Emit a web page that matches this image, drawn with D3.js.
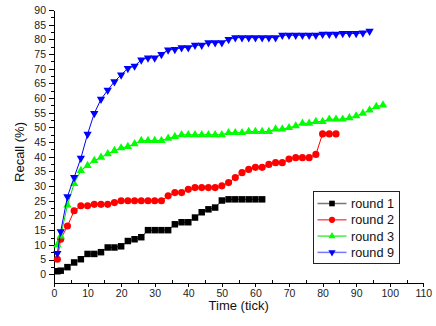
<!DOCTYPE html>
<html>
<head>
<meta charset="utf-8">
<script src="https://cdn.jsdelivr.net/npm/d3@7"></script>
<style>
  body { margin: 0; background: #fff; }
  svg { display: block; font-family: "Liberation Sans", Arial, sans-serif; }
  .axis path, .axis line { stroke: #000; shape-rendering: crispEdges; }
  .axis text { fill: #222; font-size: 10.5px; }
</style>
</head>
<body>
<div id="chart"></div>
<script>
// time (tick) at which each sample was taken
var time = [1, 2, 4, 6, 8, 10, 12, 14, 16, 18, 20, 22, 24, 26, 28, 30, 32, 34, 36, 38, 40,
            42, 44, 46, 48, 50, 52, 54, 56, 58, 60, 62, 64, 66, 68, 70, 72, 74, 76, 78, 80,
            82, 84, 86, 88, 90, 92, 94, 96, 98];

var round1 = [1.0, 1.2, 2.4, 4.0, 5.1, 6.9, 6.9, 7.5, 9.1, 9.1, 9.5, 11.3, 11.9, 12.6, 15.0,
              15.0, 15.0, 15.0, 17.0, 17.7, 17.7, 19.3, 21.1, 22.1, 22.7, 25.1, 25.5, 25.5,
              25.5, 25.5, 25.5, 25.5];

var round2 = [5.1, 11.9, 16.4, 21.6, 23.3, 23.3, 23.8, 23.8, 23.8, 24.4, 25.0, 25.0, 25.0,
              25.0, 25.0, 25.0, 25.0, 26.7, 27.8, 27.8, 28.9, 29.5, 29.5, 29.5, 29.5, 30.1,
              31.2, 32.9, 34.6, 35.7, 36.4, 36.4, 37.4, 38.0, 38.0, 39.2, 39.7, 39.7, 39.7,
              40.8, 47.8, 47.8, 47.8];

var round3 = [10.0, 13.0, 23.5, 30.9, 35.3, 37.0, 38.7, 39.8, 41.0, 42.1, 43.0, 43.5, 44.4,
              45.5, 45.5, 45.5, 45.5, 46.3, 46.9, 47.5, 47.5, 47.5, 47.5, 47.5, 47.5, 47.5,
              48.2, 48.2, 48.2, 48.6, 48.6, 48.6, 48.6, 49.4, 49.4, 49.9, 50.5, 51.4, 51.4,
              52.0, 52.0, 52.8, 52.8, 52.8, 53.3, 53.9, 54.8, 55.9, 57.1, 57.6];

var round9 = [7.1, 14.5, 26.4, 33.0, 39.5, 47.7, 54.8, 59.6, 62.7, 65.6, 67.9, 70.1, 70.9,
              73.0, 73.7, 73.7, 74.9, 76.4, 76.6, 77.2, 77.2, 78.0, 78.0, 78.9, 78.9, 78.9,
              80.0, 80.6, 80.6, 80.6, 80.6, 80.6, 80.6, 80.6, 81.4, 81.4, 81.4, 81.4, 81.4,
              81.4, 81.8, 81.8, 81.8, 82.0, 82.0, 82.0, 82.2, 82.8];

var seriesNames = ["round 1", "round 2", "round 3", "round 9"];
var xTicks = [0, 10, 20, 30, 40, 50, 60, 70, 80, 90, 100, 110];
var yTicks = [0, 5, 10, 15, 20, 25, 30, 35, 40, 45, 50, 55, 60, 65, 70, 75, 80, 85, 90];

var width = 436, height = 326;

var x = d3.scaleLinear().domain([0, 110]).range([54, 423.3]);
var y = d3.scaleLinear().domain([-3, 90]).range([283, 10]);

var svg = d3.select("#chart").append("svg")
    .attr("width", width)
    .attr("height", height);

// marker + colour for each round
var styles = [
    {data: round1, color: "#000000", line: "#333333", legendLine: "#777777", shape: d3.symbolSquare, size: 42, rot: 0},
    {data: round2, color: "#ff0000", line: "#ff0000", legendLine: "#ff5555", shape: d3.symbolCircle, size: 40, rot: 0},
    {data: round3, color: "#00ff00", line: "#00dd00", legendLine: "#44ee44", shape: d3.symbolTriangle, size: 30, rot: 0},
    {data: round9, color: "#0000ff", line: "#0000ff", legendLine: "#7777ff", shape: d3.symbolTriangle, size: 30, rot: 180}
];

// axes
svg.append("g").attr("class", "axis")
    .attr("transform", "translate(0," + y(-3) + ")")
    .call(d3.axisBottom(x).tickValues(xTicks).tickSize(4).tickPadding(3).tickSizeOuter(0));

svg.append("g").attr("class", "axis")
    .attr("transform", "translate(0," + y(-3) + ")")
    .call(d3.axisBottom(x).tickValues(d3.range(5, 110, 10)).tickSize(-3).tickFormat("").tickSizeOuter(0))
    .select(".domain").remove();

svg.append("g").attr("class", "axis")
    .attr("transform", "translate(" + x(0) + ",0)")
    .call(d3.axisLeft(y).tickValues(yTicks).tickSize(5).tickPadding(3).tickSizeOuter(0));

svg.append("g").attr("class", "axis")
    .attr("transform", "translate(" + x(0) + ",0)")
    .call(d3.axisLeft(y).tickValues(d3.range(2.5, 90, 5)).tickSize(3).tickFormat("").tickSizeOuter(0))
    .select(".domain").remove();

// axis titles
svg.append("text")
    .attr("x", (x(0) + x(110)) / 2)
    .attr("y", 310)
    .attr("text-anchor", "middle")
    .style("font-size", "13px")
    .style("fill", "#111")
    .text("Time (tick)");

svg.append("text")
    .attr("transform", "translate(24,152) rotate(-90)")
    .attr("text-anchor", "middle")
    .style("font-size", "13px")
    .style("fill", "#111")
    .text("Recall (%)");

// lines and markers
var line = d3.line()
    .x(function(d) { return x(d[0]); })
    .y(function(d) { return y(d[1]); });

styles.forEach(function(s) {
    var pts = s.data.map(function(v, i) { return [time[i], v]; });
    svg.append("path")
        .datum(pts)
        .attr("d", line)
        .attr("fill", "none")
        .attr("stroke", s.line)
        .attr("stroke-width", 1);
    svg.append("g").selectAll("path")
        .data(pts)
        .enter()
        .append("path")
        .attr("transform", function(d) { return "translate(" + x(d[0]) + "," + y(d[1]) + ") rotate(" + s.rot + ")"; })
        .attr("d", d3.symbol().type(s.shape).size(s.size))
        .attr("fill", s.color);
});

// legend
var legend = svg.append("g").attr("transform", "translate(313.5,191.5)");
legend.append("rect")
    .attr("width", 86)
    .attr("height", 72)
    .attr("fill", "#fff")
    .attr("stroke", "#222")
    .attr("stroke-width", 1);

var items = legend.selectAll(".item")
    .data(styles)
    .enter()
    .append("g")
    .attr("class", "item")
    .attr("transform", function(d, i) { return "translate(0," + (12 + i * 16.3) + ")"; });

items.append("line")
    .attr("x1", 4).attr("x2", 33)
    .attr("stroke", function(d) { return d.legendLine; })
    .attr("stroke-width", 1.5);

items.append("path")
    .attr("transform", function(d) { return "translate(18.5,0) rotate(" + d.rot + ")"; })
    .attr("d", function(d) { return d3.symbol().type(d.shape).size(d.size * 0.75)(); })
    .attr("fill", function(d) { return d.color; });

items.append("text")
    .attr("x", 37.5)
    .attr("y", 4.5)
    .style("font-size", "12.7px")
    .style("fill", "#111")
    .text(function(d, i) { return seriesNames[i]; });
</script>
</body>
</html>
